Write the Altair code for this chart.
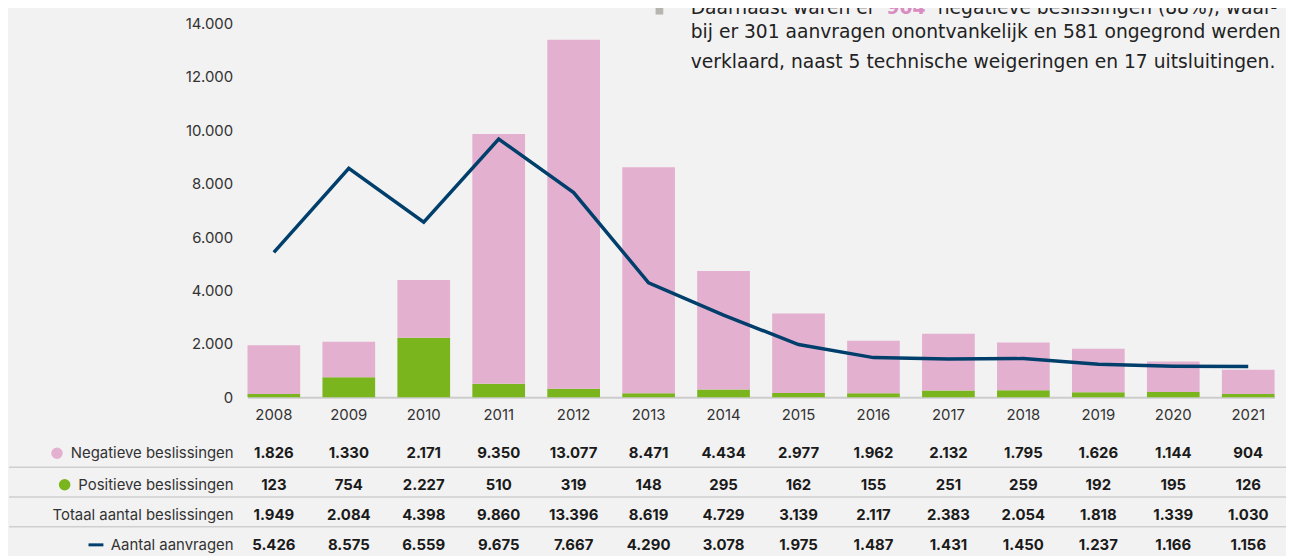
import altair as alt
import pandas as pd

years = ["2008", "2009", "2010", "2011", "2012", "2013", "2014",
         "2015", "2016", "2017", "2018", "2019", "2020", "2021"]
negatieve = [1826, 1330, 2171, 9350, 13077, 8471, 4434, 2977, 1962, 2132, 1795, 1626, 1144, 904]
positieve = [123, 754, 2227, 510, 319, 148, 295, 162, 155, 251, 259, 192, 195, 126]
totaal = [1949, 2084, 4398, 9860, 13396, 8619, 4729, 3139, 2117, 2383, 2054, 1818, 1339, 1030]
aanvragen = [5426, 8575, 6559, 9675, 7667, 4290, 3078, 1975, 1487, 1431, 1450, 1237, 1166, 1156]
row_labels = ["Negatieve beslissingen", "Positieve beslissingen",
              "Totaal aantal beslissingen", "Aantal aanvragen"]
y_ticks = [0, 2000, 4000, 6000, 8000, 10000, 12000, 14000]
note_line1 = ["Daarnaast waren er", "904", "negatieve beslissingen (88%), waar-"]
note_line2 = "bij er 301 aanvragen onontvankelijk en 581 ongegrond werden"
note_line3 = "verklaard, naast 5 technische weigeringen en 17 uitsluitingen."


def fmt(v):
    return f"{v:,}".replace(",", ".")


df = pd.DataFrame({
    "year": years,
    "neg": negatieve,
    "pos": positieve,
    "tot": totaal,
    "aan": aanvragen,
})
for c in ["neg", "pos", "tot", "aan"]:
    df[c + "_s"] = [fmt(v) for v in df[c]]

FONT = "Inter"
NOTE_FONT = "DejaVu Sans"
PINK = "#E4B0D0"
GREEN = "#7AB51D"
BLUE = "#003F6B"
TXT = "#333333"

x_enc = alt.X(
    "year:N",
    sort=years,
    title=None,
    scale=alt.Scale(type="band", paddingInner=0.297, paddingOuter=0),
    axis=alt.Axis(
        labelAngle=0, labelAlign="center", labelBaseline="top",
        ticks=False, domain=True, domainColor="#CCCCCC",
        domainWidth=2, labelFont=FONT, labelFontSize=15, labelColor=TXT,
        labelPadding=10, grid=False,
    ),
)
y_scale = alt.Scale(domain=[0, 14000], nice=False)
y_axis = alt.Axis(
    values=y_ticks, domain=False, ticks=False, grid=False,
    labelFont=FONT, labelFontSize=15, labelColor=TXT, labelPadding=15,
    labelExpr="replace(format(datum.value, ',d'), ',', '.')",
)

base = alt.Chart(df)

green_bars = base.mark_bar(color=GREEN).encode(
    x=x_enc,
    y=alt.Y("pos:Q", scale=y_scale, axis=y_axis, title=None),
)
pink_bars = base.mark_bar(color=PINK).encode(
    x=alt.X("year:N", sort=years),
    y=alt.Y("pos:Q"),
    y2="tot:Q",
)
line = base.mark_line(color=BLUE, strokeWidth=3.5, strokeJoin="miter").encode(
    x=alt.X("year:N", sort=years),
    y=alt.Y("aan:Q"),
)

row_y = [432.3, 464, 494, 524.7]
cols = ["neg_s", "pos_s", "tot_s", "aan_s"]
layers = [green_bars, pink_bars, line]

for ry, col in zip(row_y, cols):
    layers.append(
        base.mark_text(font=FONT, fontWeight="bold", fontSize=15, color="#1A1A1A",
                       baseline="middle", align="center").encode(
            x=alt.X("year:N", sort=years),
            y=alt.value(ry),
            text=alt.Text(col + ":N"),
        )
    )

one = alt.Chart(pd.DataFrame({"k": [0]}))
for ry, lab in zip(row_y, row_labels):
    layers.append(
        one.mark_text(font=FONT, fontSize=15, color=TXT, baseline="middle",
                      align="right").encode(
            x=alt.value(-14), y=alt.value(ry), text=alt.value(lab)
        )
    )

# separators
for sy in [446.3, 476.3, 506.3]:
    layers.append(
        one.mark_rule(color="#CFCFCF", strokeWidth=1.5).encode(
            x=alt.value(-240), x2=alt.value(1046), y=alt.value(sy)
        )
    )

# legend symbols
layers.append(one.mark_circle(color=PINK, size=135, opacity=1).encode(
    x=alt.value(-191.7), y=alt.value(432.3)))
layers.append(one.mark_circle(color=GREEN, size=135, opacity=1).encode(
    x=alt.value(-184), y=alt.value(464)))
layers.append(one.mark_rule(color=BLUE, strokeWidth=3).encode(
    x=alt.value(-160), x2=alt.value(-145), y=alt.value(524.5)))

# note text (top right)
NOTE_SIZE = 18.8
L1 = -9.5
layers.append(one.mark_square(color="#B8B5B0", size=60, opacity=1).encode(
    x=alt.value(414.5), y=alt.value(-13)))
layers.append(one.mark_text(font=NOTE_FONT, fontSize=NOTE_SIZE, color="#222222",
                            align="left", baseline="alphabetic").encode(
    x=alt.value(446), y=alt.value(L1), text=alt.value(note_line1[0])))
layers.append(one.mark_text(font=NOTE_FONT, fontSize=NOTE_SIZE, fontWeight="bold",
                            color="#D98CC1", align="left", baseline="alphabetic").encode(
    x=alt.value(643), y=alt.value(L1), text=alt.value(note_line1[1])))
layers.append(one.mark_text(font=NOTE_FONT, fontSize=NOTE_SIZE, color="#222222",
                            align="left", baseline="alphabetic").encode(
    x=alt.value(694.6), y=alt.value(L1), text=alt.value(note_line1[2])))
layers.append(one.mark_text(font=NOTE_FONT, fontSize=NOTE_SIZE, color="#222222",
                            align="left", baseline="alphabetic").encode(
    x=alt.value(446), y=alt.value(14.5), text=alt.value(note_line2)))
layers.append(one.mark_text(font=NOTE_FONT, fontSize=NOTE_SIZE, color="#222222",
                            align="left", baseline="alphabetic").encode(
    x=alt.value(446), y=alt.value(44.5), text=alt.value(note_line3)))

chart = alt.layer(*layers).properties(
    width=1033.5,
    height=376,
    autosize=alt.AutoSizeParams(type="none"),
    padding={"left": 241, "top": 14, "right": 11.5, "bottom": 158},
).configure(
    background="#F2F2F2",
).configure_view(stroke=None)

chart.save("out.html", embed_options={"renderer": "svg", "actions": False})
